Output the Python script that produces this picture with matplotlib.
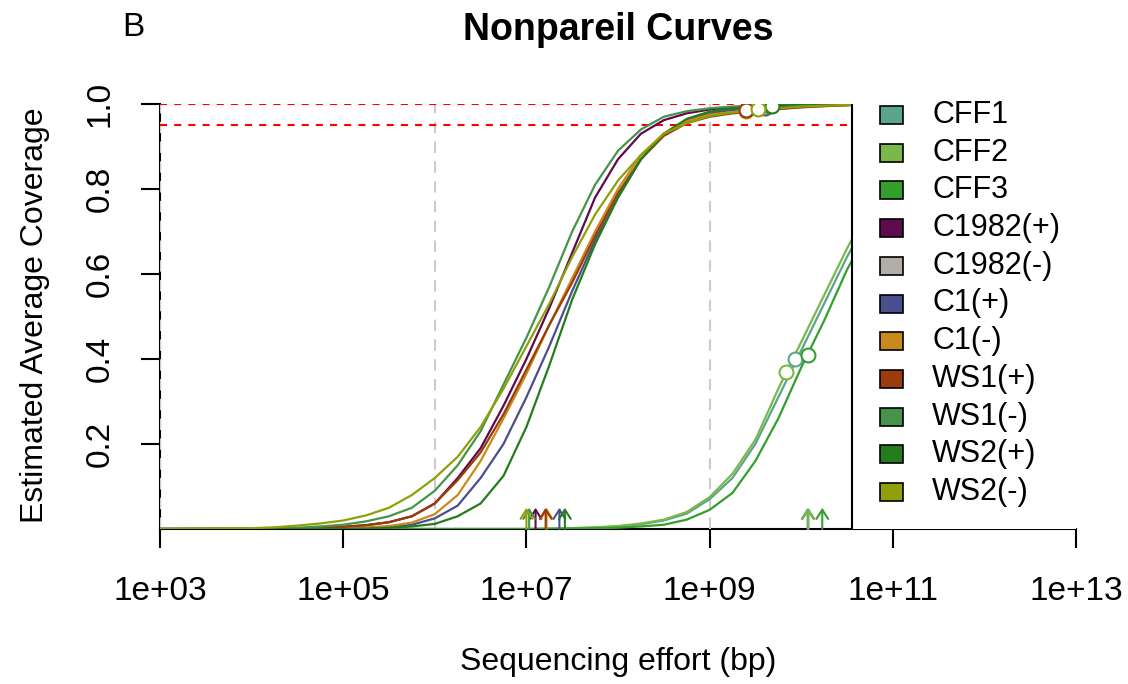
import numpy as np
import matplotlib.pyplot as plt
from matplotlib.patches import Rectangle

plt.rcParams['font.family'] = ['Liberation Sans', 'DejaVu Sans']

# log10 of sequencing effort at which coverage values were read
effort_exp = [3, 4, 4.25, 4.5, 4.75, 5, 5.25, 5.5, 5.75, 6, 6.25, 6.5, 6.75, 7, 7.25, 7.5, 7.75, 8,
              8.25, 8.5, 8.75, 9, 9.25, 9.5, 9.75, 10, 10.25, 10.5, 10.75, 11, 12, 13]

cov_CFF1 = [0, 0, 0, 0, 0, 0, 0, 0, 0, 0, 0, 0, 0, 0, 0.001, 0.002, 0.003, 0.006,
            0.011, 0.02, 0.036, 0.07, 0.12, 0.2, 0.31, 0.42, 0.53, 0.64, 0.74, 0.82, 0.97, 1]
cov_CFF2 = [0, 0, 0, 0, 0, 0, 0, 0, 0, 0, 0, 0, 0, 0, 0.001, 0.002, 0.004, 0.007,
            0.013, 0.022, 0.04, 0.075, 0.13, 0.21, 0.33, 0.44, 0.55, 0.66, 0.76, 0.84, 0.98, 1]
cov_CFF3 = [0, 0, 0, 0, 0, 0, 0, 0, 0, 0, 0, 0, 0, 0, 0, 0.001, 0.002, 0.003,
            0.006, 0.01, 0.022, 0.045, 0.085, 0.16, 0.26, 0.38, 0.49, 0.61, 0.71, 0.80, 0.96, 1]
cov_C1982p = [0, 0, 0.0005, 0.001, 0.003, 0.005, 0.009, 0.016, 0.03, 0.06, 0.12, 0.19, 0.29, 0.40,
              0.52, 0.65, 0.78, 0.87, 0.93, 0.962, 0.978, 0.987, 0.992, 0.995, 0.997, 0.998,
              0.999, 1, 1, 1, 1, 1]
cov_C1p = [0, 0, 0, 0, 0.0005, 0.001, 0.002, 0.005, 0.01, 0.025, 0.055, 0.12, 0.20, 0.31, 0.43,
           0.56, 0.68, 0.78, 0.87, 0.93, 0.962, 0.978, 0.986, 0.99, 0.994, 0.996, 0.998, 0.999,
           1, 1, 1, 1]
cov_C1m = [0, 0, 0, 0, 0.001, 0.002, 0.004, 0.007, 0.015, 0.035, 0.08, 0.16, 0.26, 0.365, 0.48,
           0.59, 0.70, 0.80, 0.88, 0.93, 0.96, 0.975, 0.981, 0.985, 0.989, 0.993, 0.995, 0.997,
           0.999, 1, 1, 1]
cov_WS1p = [0, 0, 0.0005, 0.001, 0.003, 0.005, 0.009, 0.016, 0.03, 0.06, 0.115, 0.18, 0.27, 0.375,
            0.48, 0.58, 0.69, 0.79, 0.87, 0.925, 0.955, 0.97, 0.978, 0.983, 0.988, 0.992, 0.995,
            0.997, 0.999, 1, 1, 1]
cov_WS1m = [0, 0.001, 0.002, 0.003, 0.006, 0.01, 0.018, 0.03, 0.05, 0.09, 0.15, 0.23, 0.34, 0.45,
            0.57, 0.70, 0.81, 0.89, 0.94, 0.97, 0.983, 0.99, 0.994, 0.996, 0.998, 0.999, 1, 1,
            1, 1, 1, 1]
cov_WS2p = [0, 0, 0, 0, 0, 0, 0.001, 0.003, 0.006, 0.012, 0.03, 0.06, 0.125, 0.24, 0.385, 0.54,
            0.67, 0.78, 0.87, 0.93, 0.965, 0.982, 0.99, 0.994, 0.997, 0.999, 1, 1, 1, 1, 1, 1]
cov_WS2m = [0, 0.002, 0.004, 0.008, 0.013, 0.02, 0.032, 0.05, 0.08, 0.12, 0.17, 0.24, 0.33, 0.43,
            0.53, 0.64, 0.74, 0.82, 0.88, 0.93, 0.955, 0.972, 0.98, 0.986, 0.99, 0.994, 0.996,
            0.998, 0.999, 1, 1, 1]

samples = ['CFF1', 'CFF2', 'CFF3', 'C1982(+)', 'C1982(-)', 'C1(+)', 'C1(-)',
           'WS1(+)', 'WS1(-)', 'WS2(+)', 'WS2(-)']
colors = ['#5BA58C', '#7AB84C', '#33A02C', '#5E0A4C', '#B3ADA8', '#4B4E8C',
          '#C98A1B', '#9A3D0A', '#469449', '#237D1C', '#8FA00A']
curves = [cov_CFF1, cov_CFF2, cov_CFF3, cov_C1982p, None, cov_C1p, cov_C1m,
          cov_WS1p, cov_WS1m, cov_WS2p, cov_WS2m]

# actual dataset effort (log10) and coverage -> open circles
point_exp = [9.93, 9.83, 10.07, 9.60, None, 9.60, 9.40, 9.40, 9.65, 9.68, 9.53]
point_cov = [0.40, 0.37, 0.41, 0.996, None, 0.99, 0.983, 0.985, 0.996, 0.995, 0.988]
# diversity arrows (log10 effort)
arrow_exp = [10.07, 10.08, 10.23, 7.10, None, 7.36, 7.22, 7.21, 7.03, 7.42, 7.00]

fig = plt.figure(figsize=(11.28, 6.84), dpi=100)
ax = fig.add_axes([160/1128., 1-529/684., 916/1128., 425/684.])
ax.set_xscale('log')
ax.set_xlim(1e3, 1e13)
ax.set_ylim(0, 1)

for s in ['top', 'right']:
    ax.spines[s].set_visible(False)
ax.spines['left'].set_linewidth(1.5)
ax.spines['bottom'].set_linewidth(1.5)

# reference lines
for v in [1e3, 1e6, 1e9, 1e12]:
    ax.axvline(v, color='#CCCCCC', lw=1.5, ls=(0, (5.5, 4)), zorder=3)
for h in [0.95, 1.0]:
    ax.axhline(h, color='red', lw=1.5, ls=(0, (3.4, 3.4)), zorder=3)

x = 10.0 ** np.array(effort_exp)
for name, col, cv, pe, pc, ae in zip(samples, colors, curves, point_exp, point_cov, arrow_exp):
    if cv is None:
        continue
    ax.plot(x, cv, color=col, lw=1.6, zorder=4)
    ax.plot([10 ** pe], [pc], 'o', mfc='white', mec=col, ms=10, mew=1.5, zorder=5)
    ax.annotate('', xy=(10 ** ae, 0.05), xytext=(10 ** ae, 0),
                arrowprops=dict(arrowstyle='->,head_length=0.55,head_width=0.35',
                                mutation_scale=12, color=col, lw=1.5,
                                shrinkA=0, shrinkB=0),
                zorder=5)

# legend box (clipped to plot region like the original)
lx0 = (852 - 160) / 916.
box = Rectangle((lx0, -0.01), 1.2 - lx0, 1.2, transform=ax.transAxes,
                facecolor='white', edgecolor='black', lw=1.5, zorder=10, clip_on=True)
ax.add_patch(box)
box.set_clip_path(ax.patch)
for i, (name, col) in enumerate(zip(samples, colors)):
    yc = (529 - (115 + 37.7 * i)) / 425.
    r = Rectangle(((880 - 160) / 916., yc - 9 / 425.), 23 / 916., 18 / 425.,
                  transform=ax.transAxes, facecolor=col, edgecolor='black', lw=1.2,
                  zorder=11)
    ax.add_patch(r)
    ax.text((932 - 160) / 916., yc, name, transform=ax.transAxes, fontsize=22,
            va='center', ha='left', zorder=12)

ax.set_xticks([1e3, 1e5, 1e7, 1e9, 1e11, 1e13])
ax.set_xticklabels(['1e+03', '1e+05', '1e+07', '1e+09', '1e+11', '1e+13'])
ax.xaxis.set_minor_locator(plt.NullLocator())
ax.set_yticks([0.2, 0.4, 0.6, 0.8, 1.0])
ax.set_yticklabels(['0.2', '0.4', '0.6', '0.8', '1.0'], rotation=90, va='center')
ax.tick_params(axis='x', direction='out', length=14, width=1.5, labelsize=24, pad=20)
ax.tick_params(axis='y', direction='out', length=14, width=1.5, labelsize=24, pad=18)

fig.text(0.548, 1 - 30/684., 'Nonpareil Curves', fontsize=27, fontweight='bold',
         ha='center', va='center')
fig.text(133/1128., 1 - 28/684., 'B', fontsize=24, ha='center', va='center')
fig.text(0.548, 1 - 662/684., 'Sequencing effort (bp)', fontsize=23, ha='center', va='center')
fig.text(35/1128., 1 - 315/684., 'Estimated Average Coverage', fontsize=23,
         rotation=90, ha='center', va='center')

fig.savefig('out.png', dpi=100)
